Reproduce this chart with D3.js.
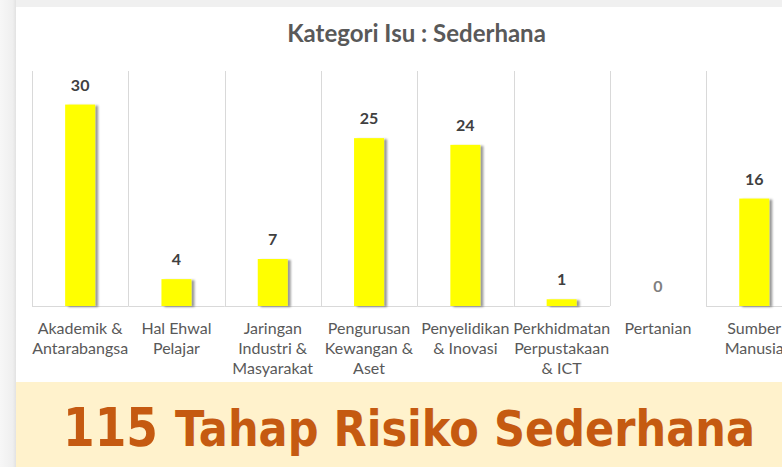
<!DOCTYPE html>
<html>
<head>
<meta charset="utf-8">
<script src="https://cdn.jsdelivr.net/npm/d3@7"></script>
<style>
  body { margin: 0; background: #f0f0f0; }
  svg { display: block; }
</style>
</head>
<body>
<div id="chart"></div>
<script>
// data
var categories = [
  "Akademik &\nAntarabangsa",
  "Hal Ehwal\nPelajar",
  "Jaringan\nIndustri &\nMasyarakat",
  "Pengurusan\nKewangan &\nAset",
  "Penyelidikan\n& Inovasi",
  "Perkhidmatan\nPerpustakaan\n& ICT",
  "Pertanian",
  "Sumber\nManusia"
];
var values = [30, 4, 7, 25, 24, 1, 0, 16];
var chartTitle = "Kategori Isu : Sederhana";
var totalCount = "115";
var totalText = "Tahap Risiko Sederhana";

var width = 782, height = 467;
var plotTop = 71, base = 306;

var svg = d3.select("#chart").append("svg")
  .attr("width", width)
  .attr("height", height);

var defs = svg.append("defs");
var shadow = defs.append("filter").attr("id", "barShadow")
  .attr("x", "-20%").attr("y", "-10%").attr("width", "160%").attr("height", "130%");
shadow.append("feDropShadow")
  .attr("dx", 3).attr("dy", 1).attr("stdDeviation", 1.2)
  .attr("flood-color", "#000").attr("flood-opacity", 0.4);

var grad = defs.append("linearGradient").attr("id", "leftEdge");
grad.append("stop").attr("offset", "0%").attr("stop-color", "#f7f7f7");
grad.append("stop").attr("offset", "80%").attr("stop-color", "#efefef");
grad.append("stop").attr("offset", "100%").attr("stop-color", "#e2e2e2");

// outer frame
svg.append("rect").attr("width", width).attr("height", height).attr("fill", "#f0f0f0");
svg.append("rect").attr("width", 16).attr("height", height).attr("fill", "url(#leftEdge)");
svg.append("rect").attr("x", 16).attr("y", 7).attr("width", width - 16).attr("height", height - 7)
  .attr("fill", "#fff");

var x = d3.scaleBand()
  .domain(categories)
  .range([32, 32 + 96.3 * categories.length])
  .padding(0);

var y = d3.scaleLinear()
  .domain([0, 35])
  .range([base, plotTop]);

// category separators
var bounds = categories.map(function(c) { return x(c); });
bounds.push(x(categories[categories.length - 1]) + x.bandwidth());
svg.append("g").selectAll("line")
  .data(bounds)
  .enter().append("line")
  .attr("x1", function(d) { return Math.round(d) + 0.5; })
  .attr("x2", function(d) { return Math.round(d) + 0.5; })
  .attr("y1", y(35))
  .attr("y2", base)
  .attr("stroke", "#d9d9d9")
  .attr("stroke-width", 1);

// baseline, left open under empty categories
svg.append("g").selectAll("line")
  .data(categories.filter(function(c, i) { return values[i] > 0; }))
  .enter().append("line")
  .attr("x1", function(d) { return x(d); })
  .attr("x2", function(d) { return x(d) + x.bandwidth(); })
  .attr("y1", base + 0.5)
  .attr("y2", base + 0.5)
  .attr("stroke", "#d9d9d9")
  .attr("stroke-width", 1);

// bars
var barW = 30;
svg.append("g").selectAll("rect")
  .data(values)
  .enter().append("rect")
  .attr("x", function(d, i) { return x(categories[i]) + x.bandwidth() / 2 - barW / 2; })
  .attr("y", function(d) { return y(d); })
  .attr("width", barW)
  .attr("height", function(d) { return base - y(d); })
  .attr("fill", "#ffff00")
  .attr("filter", "url(#barShadow)");

// value labels
svg.append("g").selectAll("text")
  .data(values)
  .enter().append("text")
  .attr("x", function(d, i) { return x(categories[i]) + x.bandwidth() / 2; })
  .attr("y", function(d) { return y(d) - 14; })
  .attr("text-anchor", "middle")
  .attr("font-family", "Lato, 'Open Sans', sans-serif")
  .attr("font-weight", "bold")
  .attr("font-size", 16)
  .attr("fill", function(d) { return d === 0 ? "#7f7f7f" : "#404040"; })
  .text(function(d) { return d; });

// category labels
var labels = svg.append("g").selectAll("text")
  .data(categories)
  .enter().append("text")
  .attr("text-anchor", "middle")
  .attr("font-family", "Lato, 'Open Sans', sans-serif")
  .attr("font-size", 16)
  .attr("fill", "#595959");
labels.each(function(d) {
  var t = d3.select(this);
  d.split("\n").forEach(function(line, k) {
    t.append("tspan")
      .attr("x", x(d) + x.bandwidth() / 2)
      .attr("y", base + 28 + k * 20)
      .text(line);
  });
});

// title
svg.append("text")
  .attr("x", 416.5)
  .attr("y", 42)
  .attr("text-anchor", "middle")
  .attr("font-family", "Lato, 'Open Sans', sans-serif")
  .attr("font-weight", "bold")
  .attr("font-size", 24)
  .attr("fill", "#595959")
  .text(chartTitle);

// summary band
svg.append("rect")
  .attr("x", 16).attr("y", 382)
  .attr("width", width - 16).attr("height", height - 382)
  .attr("fill", "#fff2cc");

svg.append("text")
  .attr("x", 63).attr("y", 446)
  .attr("font-family", "'DejaVu Sans', Verdana, sans-serif")
  .attr("font-weight", "bold")
  .attr("font-size", 54)
  .attr("fill", "#c55a11")
  .attr("textLength", 95)
  .attr("lengthAdjust", "spacingAndGlyphs")
  .text(totalCount);

svg.append("text")
  .attr("x", 175).attr("y", 446)
  .attr("font-family", "'DejaVu Sans', Verdana, sans-serif")
  .attr("font-weight", "bold")
  .attr("font-size", 49)
  .attr("fill", "#c55a11")
  .attr("textLength", 580)
  .attr("lengthAdjust", "spacingAndGlyphs")
  .text(totalText);
</script>
</body>
</html>
